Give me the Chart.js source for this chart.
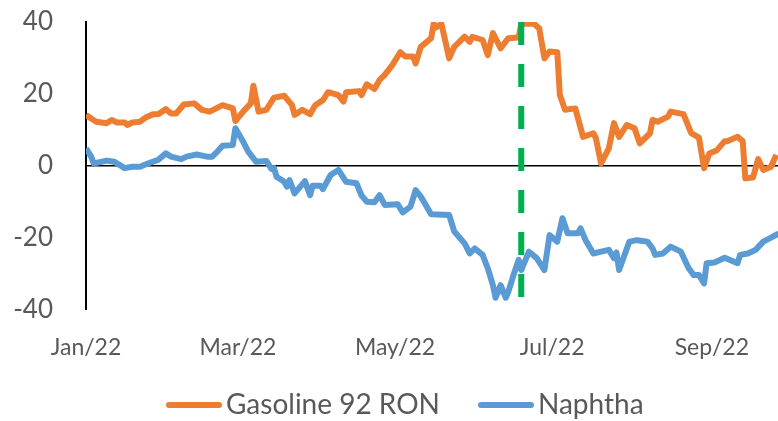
<!DOCTYPE html>
<html>
<head>
<meta charset="utf-8">
<script src="https://cdn.jsdelivr.net/npm/chart.js@4.4.1/dist/chart.umd.min.js"></script>
<style>
  html, body { margin: 0; padding: 0; background: #ffffff; }
  #wrap { width: 778px; height: 421px; position: relative; }
</style>
</head>
<body>
<div id="wrap"><canvas id="chart"></canvas></div>
<script>
// x values are days counted from 1 Jan 2022
const tickDays = [0, 59, 120, 181, 243];
const tickLabels = ["Jan/22", "Mar/22", "May/22", "Jul/22", "Sep/22"];

const gasolineDays = [0, 2, 4, 8, 10, 12, 15, 16, 18, 21, 23, 26, 28, 31, 33, 35, 38, 42, 45, 48,
  50, 53, 57, 58, 61, 64, 65, 67, 70, 73, 77, 80, 81, 84, 87, 89, 92, 94, 98, 100,
  101, 106, 107, 109, 112, 114, 116, 119, 122, 124, 127, 128, 130, 134, 135, 136, 138, 139, 141, 143,
  147, 149, 150, 154, 156, 158, 161, 164, 168, 169, 174, 176, 178, 180, 183, 184, 186, 190, 193, 197,
  198, 200, 203, 205, 207, 210, 213, 215, 219, 220, 222, 226, 227, 232, 235, 238, 240, 242, 245, 248,
  249, 253, 255, 256, 259, 261, 263, 266, 268];
const gasolineValues = [14.2, 13.2, 12.3, 11.9, 12.8, 12.1, 12.1, 11.4, 12.1, 12.3, 13.4, 14.4, 14.4, 15.8, 14.6, 14.6, 17.1, 17.4, 15.6, 15.1,
  15.8, 16.9, 16.0, 12.5, 15.1, 17.4, 22.3, 15.1, 15.6, 19.0, 19.5, 16.9, 14.2, 15.6, 14.4, 16.9, 18.3, 20.5, 19.7, 17.9,
  20.5, 20.8, 19.7, 22.7, 21.4, 23.9, 25.3, 28.1, 31.6, 30.4, 30.4, 28.5, 33.1, 35.5, 39.5, 38.5, 39.5, 36.4, 29.9, 33.1,
  35.9, 34.5, 35.9, 35.0, 30.8, 36.9, 32.7, 35.5, 35.7, 39.5, 39.5, 38.2, 29.9, 31.8, 31.6, 19.7, 15.6, 16.0, 8.1, 9.1,
  7.7, 0.7, 4.9, 11.9, 8.1, 11.4, 10.5, 6.3, 9.1, 12.8, 12.3, 13.7, 15.1, 14.4, 9.1, 7.9, -0.6, 3.5, 4.4, 6.9,
  6.9, 8.1, 6.9, -3.4, -3.2, 1.9, -1.1, -0.2, 3.1];

const naphthaDays = [0, 2, 3, 8, 11, 15, 18, 21, 24, 28, 31, 33, 37, 39, 43, 47, 49, 51, 53, 57,
  58, 61, 63, 66, 70, 72, 73, 74, 77, 78, 79, 81, 85, 87, 88, 91, 92, 95, 98, 101,
  105, 107, 109, 112, 114, 116, 121, 123, 126, 128, 130, 134, 141, 143, 147, 149, 151, 154, 156, 158,
  159, 161, 163, 164, 166, 168, 169, 172, 175, 178, 180, 183, 185, 187, 191, 192, 194, 197, 200, 203,
  205, 206, 207, 211, 214, 218, 220, 221, 224, 227, 231, 234, 236, 238, 240, 241, 244, 248, 253, 254,
  257, 260, 263, 266, 269];
const naphthaValues = [4.9, 2.6, 0.7, 1.5, 1.2, -0.6, -0.2, -0.2, 0.7, 1.7, 3.5, 2.6, 1.9, 2.6, 3.2, 2.6, 2.6, 4.0, 5.6, 5.8,
  10.5, 6.8, 4.0, 1.2, 1.4, -0.8, -0.6, -3.0, -4.4, -5.7, -3.9, -7.6, -4.2, -8.1, -5.5, -5.5, -6.4, -2.5, -1.1, -4.4,
  -4.8, -8.2, -9.9, -10.1, -8.1, -10.8, -10.6, -12.9, -11.3, -6.7, -8.5, -13.4, -13.6, -18.2, -21.5, -24.3, -22.9, -24.7, -28.4, -33.1,
  -36.6, -33.1, -36.6, -34.9, -30.3, -26.1, -28.9, -23.8, -25.6, -28.9, -19.2, -21.0, -14.5, -18.7, -18.7, -17.3, -20.6, -24.3, -23.8, -23.3,
  -25.6, -24.0, -28.9, -21.0, -20.6, -21.0, -22.9, -24.7, -24.3, -22.4, -23.8, -28.4, -30.3, -30.3, -32.6, -27.0, -26.8, -25.5, -27.0, -24.7,
  -24.3, -23.3, -21.0, -19.9, -18.7];

// vertical dashed marker
const markerDay = 169;
const markerRange = [40, -40];

const textColor = "#595959";
const fontFamily = "Lato, 'Open Sans', sans-serif";

function toPoints(xs, ys) {
  return xs.map((x, i) => ({ x: x, y: ys[i] }));
}

// legend drawn by hand so spacing matches the original
const bottomLegend = {
  id: "bottomLegend",
  afterDraw(chart) {
    const ctx = chart.ctx;
    const items = chart.data.datasets.filter(d => !d.noLegend);
    const lineLen = 56;
    const textGap = 4;
    const itemGap = 38;
    let x = 166;
    const y = 405;
    ctx.save();
    ctx.font = "28px " + fontFamily;
    ctx.textBaseline = "middle";
    ctx.textAlign = "left";
    items.forEach(d => {
      ctx.strokeStyle = d.borderColor;
      ctx.lineWidth = 6;
      ctx.lineCap = "round";
      ctx.beginPath();
      ctx.moveTo(x + 3, y);
      ctx.lineTo(x + lineLen - 3, y);
      ctx.stroke();
      x += lineLen + textGap;
      ctx.fillStyle = textColor;
      ctx.fillText(d.label, x, y);
      x += ctx.measureText(d.label).width + itemGap;
    });
    ctx.restore();
  }
};

const ctx = document.getElementById("chart").getContext("2d");
new Chart(ctx, {
  type: "line",
  data: {
    datasets: [
      {
        label: "marker",
        noLegend: true,
        data: markerRange.map(v => ({ x: markerDay, y: v })),
        borderColor: "#00B050",
        borderWidth: 6,
        borderDash: [23, 19],
        pointRadius: 0
      },
      {
        label: "Gasoline 92 RON",
        data: toPoints(gasolineDays, gasolineValues),
        borderColor: "#ED7D31",
        borderWidth: 6,
        borderJoinStyle: "round",
        pointRadius: 0,
        tension: 0
      },
      {
        label: "Naphtha",
        data: toPoints(naphthaDays, naphthaValues),
        borderColor: "#5B9BD5",
        borderWidth: 6,
        borderJoinStyle: "round",
        pointRadius: 0,
        tension: 0
      }
    ]
  },
  options: {
    responsive: true,
    maintainAspectRatio: false,
    animation: false,
    layout: { padding: { top: 22, right: 0, bottom: 0, left: 0 } },
    plugins: {
      legend: { display: false },
      tooltip: { enabled: false }
    },
    scales: {
      x: {
        type: "linear",
        min: 0,
        max: 268.7,
        border: { display: false },
        grid: { display: false, drawTicks: false },
        afterBuildTicks: (scale) => {
          scale.ticks = tickDays.map(v => ({ value: v }));
        },
        afterFit: (scale) => { scale.height = 111; },
        ticks: {
          autoSkip: false,
          maxRotation: 0,
          padding: 24,
          color: textColor,
          font: { family: fontFamily, size: 23 },
          callback: (value) => tickLabels[tickDays.indexOf(value)]
        }
      },
      y: {
        min: -40,
        max: 40,
        border: { display: true, color: "#000000", width: 2 },
        grid: {
          drawTicks: true,
          tickLength: 33,
          tickColor: "rgba(0,0,0,0)",
          color: (c) => (c.tick && c.tick.value === 0 ? "#000000" : "rgba(0,0,0,0)"),
          lineWidth: (c) => (c.tick && c.tick.value === 0 ? 1.5 : 0)
        },
        afterFit: (scale) => { scale.width = 86; },
        ticks: {
          stepSize: 20,
          padding: 0,
          color: textColor,
          font: { family: fontFamily, size: 26 }
        }
      }
    }
  },
  plugins: [bottomLegend]
});
</script>
</body>
</html>
